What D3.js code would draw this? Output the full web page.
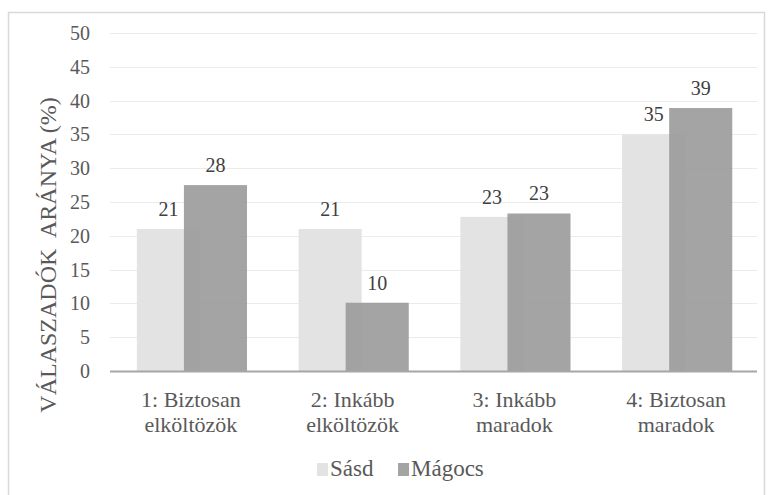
<!DOCTYPE html>
<html>
<head>
<meta charset="utf-8">
<script src="https://cdn.jsdelivr.net/npm/d3@7"></script>
<style>
  html, body { margin: 0; padding: 0; background: #fff; }
  svg { display: block; }
</style>
</head>
<body>
<svg id="chart" width="768" height="495"></svg>
<script>
const categories = [["1: Biztosan", "elköltözök"], ["2: Inkább", "elköltözök"], ["3: Inkább", "maradok"], ["4: Biztosan", "maradok"]];
const seriesNames = ["Sásd", "Mágocs"];
const sasdValues = [21.0, 21.0, 22.8, 35.0];
const magocsValues = [27.5, 10.1, 23.3, 38.9];
const yTicks = [0, 5, 10, 15, 20, 25, 30, 35, 40, 45, 50];
const yTitle = "VÁLASZADÓK  ARÁNYA (%)";
const colors = ["#e3e3e3", "#9a9a9a"];

(function () {
const FONT = "'Liberation Serif', serif";
const svg = d3.select("#chart");

// outer border
svg.append("rect").attr("x", 8.5).attr("y", 12.5).attr("width", 756).attr("height", 490)
  .attr("fill", "#fff").attr("stroke", "#d9d9d9").attr("stroke-width", 1.5);

const pLeft = 110, pRight = 757, pTop = 33, pBottom = 371;
const catIdx = categories.map((d, i) => i);
const x = d3.scaleBand().domain(catIdx).range([pLeft, pRight]).padding(0);
const y = d3.scaleLinear().domain([0, 50]).range([pBottom, pTop]);
const step = x.step();
const barW = step * 0.39;
const offs = [-step * 0.334, -step * 0.043];

// gridlines
svg.append("g").selectAll("line").data(yTicks.filter(t => t > 0)).join("line")
  .attr("x1", pLeft).attr("x2", pRight)
  .attr("y1", d => Math.round(y(d)) + 0.5).attr("y2", d => Math.round(y(d)) + 0.5)
  .attr("stroke", "#ebebeb").attr("stroke-width", 1);

// y axis labels
const yAxis = d3.axisLeft(y).tickValues(yTicks).tickSize(0).tickPadding(0);
const ya = svg.append("g").attr("transform", `translate(90,0)`).call(yAxis);
ya.select(".domain").remove();
ya.attr("font-family", FONT).attr("font-size", 20);
ya.selectAll("text").attr("fill", "#595959").style("font-family", FONT).attr("dy", "0.32em");

// bars
const seriesData = [sasdValues, magocsValues];
seriesData.forEach((vals, s) => {
  svg.append("g").selectAll("rect").data(vals).join("rect")
    .attr("x", (d, i) => x(i) + step / 2 + offs[s])
    .attr("width", barW)
    .attr("y", d => y(d))
    .attr("height", d => y(0) - y(d))
    .attr("fill", colors[s])
    .attr("fill-opacity", s === 1 ? 0.9 : 1);
});

// data labels
seriesData.forEach((vals, s) => {
  svg.append("g").selectAll("text").data(vals).join("text")
    .attr("x", (d, i) => x(i) + step / 2 + offs[s] + barW / 2)
    .attr("y", d => y(d) - 13)
    .attr("text-anchor", "middle")
    .style("font-family", FONT)
    .attr("font-size", 20).attr("fill", "#404040")
    .text(d => Math.round(d));
});

// x axis line
svg.append("line").attr("x1", pLeft).attr("x2", pRight)
  .attr("y1", pBottom + 0.5).attr("y2", pBottom + 0.5)
  .attr("stroke", "#a6a6a6").attr("stroke-width", 2);

// x labels
const xl = svg.append("g").selectAll("text").data(categories).join("text")
  .attr("text-anchor", "middle").attr("font-size", 22).attr("fill", "#595959")
  .style("font-family", FONT);
xl.each(function(d, i) {
  const t = d3.select(this);
  d.forEach((line, j) => {
    t.append("tspan").attr("x", x(i) + step / 2).attr("y", 407 + j * 25).text(line);
  });
});

// y title
svg.append("text")
  .attr("transform", `translate(56,255) rotate(-90)`)
  .attr("text-anchor", "middle").attr("font-size", 24).attr("fill", "#595959")
  .style("font-family", FONT)
  .style("white-space", "pre")
  .text(yTitle);

// legend
const legX = [317, 398];
seriesNames.forEach((n, i) => {
  svg.append("rect").attr("x", legX[i]).attr("y", 463).attr("width", 11).attr("height", 13)
    .attr("fill", colors[i]).attr("fill-opacity", i === 1 ? 0.9 : 1);
  svg.append("text").attr("x", legX[i] + 13).attr("y", 476)
    .style("font-family", FONT)
    .attr("font-size", 23).attr("fill", "#595959").text(n);
});
})();
</script>
</body>
</html>
